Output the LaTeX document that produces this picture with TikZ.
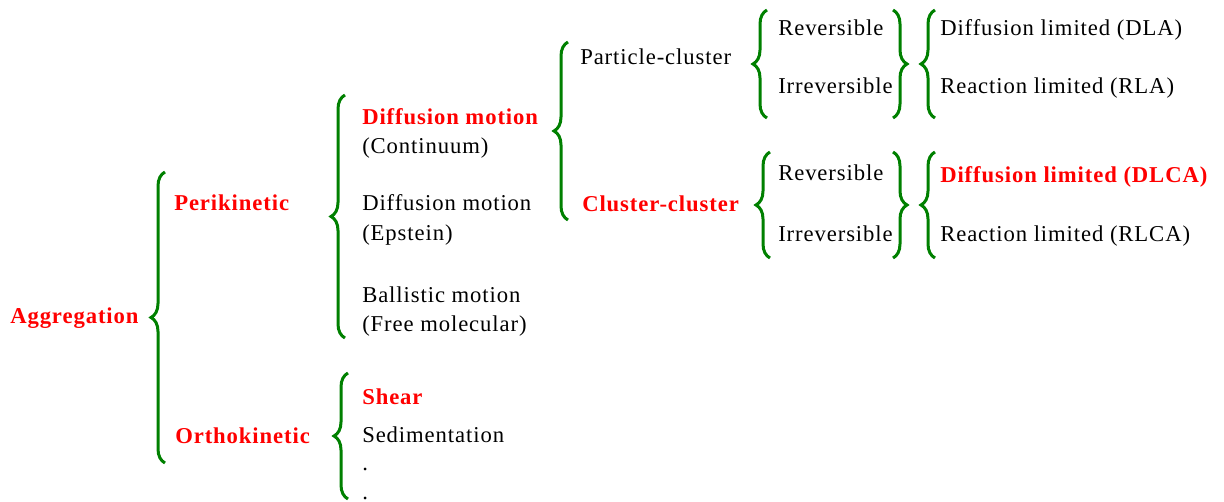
\documentclass[tikz,border=0pt]{standalone}
\usepackage{fontspec}
\setmainfont{Liberation Serif}[LetterSpace=4]
\usetikzlibrary{decorations.pathreplacing}
\definecolor{bred}{RGB}{255,0,0}
\definecolor{bgreen}{RGB}{0,128,0}
\begin{document}
\begin{tikzpicture}[x=0.75pt,y=-0.75pt,
  lbl/.style={anchor=base west, inner sep=0pt, font=\fontsize{17}{20}\selectfont},
  hl/.style={lbl, text=bred, font=\fontsize{17}{20}\selectfont\bfseries},
  br/.style={draw=bgreen, line width=2.25pt, decorate, decoration={brace, amplitude=10.5pt}}]
\useasboundingbox (0,0) rectangle (1224,502);
% labels (baseline = visual centre + 8px)
\node[hl]  (agg)  at (10,323) {Aggregation};
\node[hl]  (peri) at (174,211) {Perikinetic};
\node[hl]  (orth) at (175,443) {Orthokinetic};
\node[hl]  (dm1)  at (362,125) {Diffusion motion};
\node[lbl] (cont) at (362,154) {(Continuum)};
\node[lbl] (dm2)  at (362,211) {Diffusion motion};
\node[lbl] (eps)  at (362,241) {(Epstein)};
\node[lbl] (bal)  at (362,302) {Ballistic motion};
\node[lbl] (fm)   at (362,331) {(Free molecular)};
\node[lbl] (pc)   at (580,65) {Particle-cluster};
\node[hl]  (cc)   at (582,212) {Cluster-cluster};
\node[lbl] (rev1) at (778,36) {Reversible};
\node[lbl] (irr1) at (778,94) {Irreversible};
\node[lbl] (rev2) at (778,181) {Reversible};
\node[lbl] (irr2) at (778,242) {Irreversible};
\node[lbl] (dla)  at (940,36) {Diffusion limited (DLA)};
\node[lbl] (rla)  at (940,94) {Reaction limited (RLA)};
\node[hl]  (dlca) at (940,183) {Diffusion limited (DLCA)};
\node[lbl] (rlca) at (940,242) {Reaction limited (RLCA)};
\node[hl]  (sh)   at (362,404) {Shear};
\node[lbl] (sed)  at (362,442) {Sedimentation};
\node[lbl] (d1)   at (362,470) {.};
\node[lbl] (d2)   at (362,499.5) {.};
% brace end points
\coordinate (b1t) at (165,172); \coordinate (b1b) at (165,463);
\coordinate (b2t) at (345,95);  \coordinate (b2b) at (345,338);
\coordinate (b3t) at (568,42);  \coordinate (b3b) at (568,220);
\coordinate (b4t) at (767,10);  \coordinate (b4b) at (767,118);
\coordinate (b5t) at (770,152); \coordinate (b5b) at (770,258);
\coordinate (b6t) at (893,10);  \coordinate (b6b) at (893,118);
\coordinate (b7t) at (893,152); \coordinate (b7b) at (893,258);
\coordinate (b8t) at (935,10);  \coordinate (b8b) at (935,118);
\coordinate (b9t) at (935,152); \coordinate (b9b) at (935,258);
\coordinate (b10t) at (348,373); \coordinate (b10b) at (348,499);
% left-pointing braces
\draw[br] (b1b) -- (b1t);
\draw[br] (b2b) -- (b2t);
\draw[br] (b3b) -- (b3t);
\draw[br] (b4b) -- (b4t);
\draw[br] (b5b) -- (b5t);
\draw[br] (b8b) -- (b8t);
\draw[br] (b9b) -- (b9t);
\draw[br] (b10b) -- (b10t);
% right-pointing braces
\draw[br] (b6t) -- (b6b);
\draw[br] (b7t) -- (b7b);
\end{tikzpicture}
\end{document}
